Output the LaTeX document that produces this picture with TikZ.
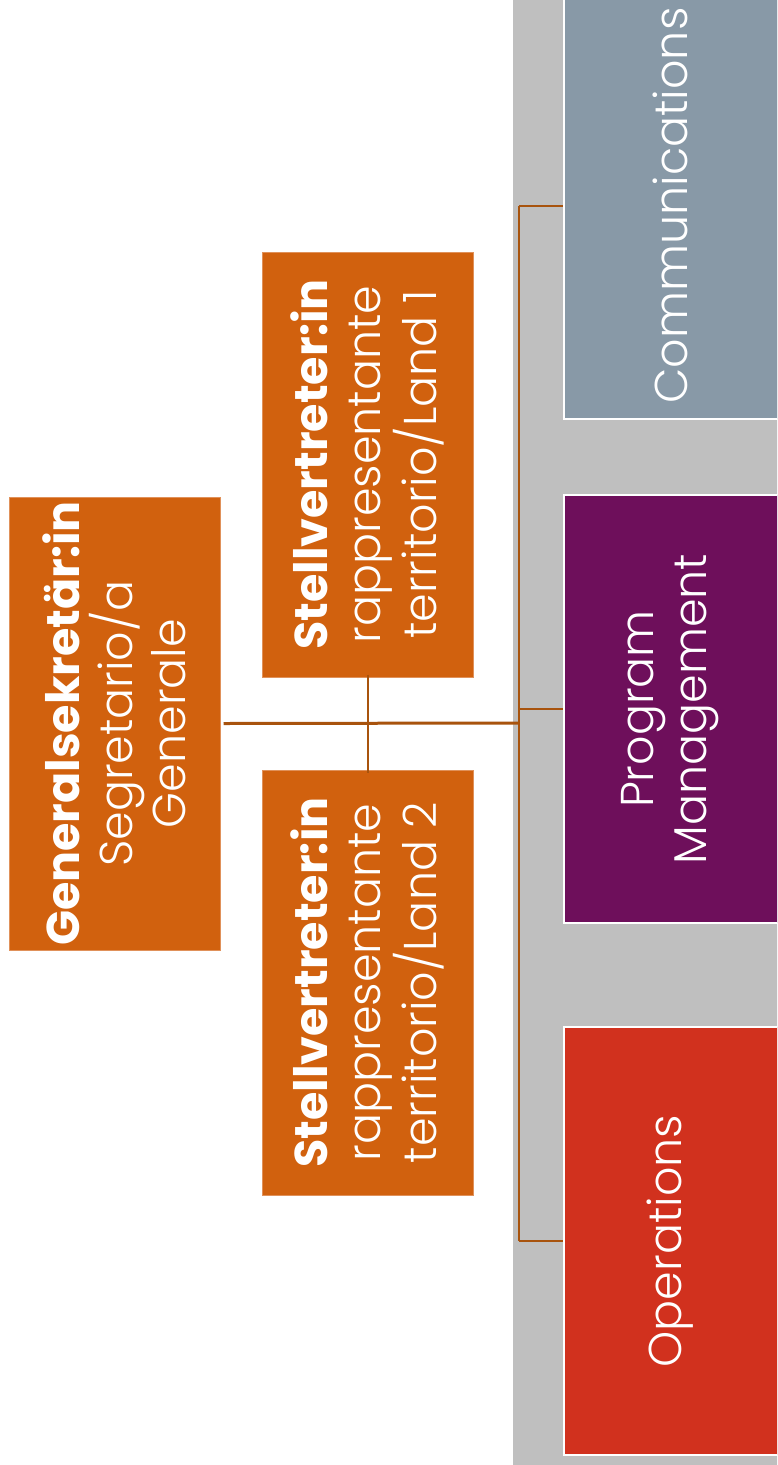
\documentclass[tikz,border=0pt]{standalone}
\usepackage{fontspec}
\setmainfont{Poppins}[UprightFont=* Light, BoldFont=* Bold]
\definecolor{boxorange}{HTML}{D1610E}
\definecolor{boxborder}{HTML}{E0915A}
\definecolor{bandgray}{HTML}{BFBFBF}
\definecolor{commblue}{HTML}{8899A7}
\definecolor{pmpurple}{HTML}{6E0F5B}
\definecolor{opsred}{HTML}{D1311E}
\definecolor{linebrown}{HTML}{A8530D}
\begin{document}
\begin{tikzpicture}[x=1pt,y=-1pt,
  obox/.style={rectangle, fill=boxorange, draw=boxborder, line width=1pt, inner sep=0pt, minimum width=211pt},
  rbox/.style={rectangle, draw=white, line width=1.5pt, inner sep=0pt, minimum width=230pt},
  vtext/.style={rotate=90, align=center, text=white, inner sep=0pt, font=\fontsize{46}{53}\selectfont},
  conn/.style={draw=linebrown, line width=2pt},
  mainconn/.style={draw=linebrown, line width=3pt}]
\useasboundingbox (0,0) rectangle (777,1465);
\clip (0,0) rectangle (777,1465);
\fill[bandgray] (513,-5) rectangle (790,1470);
% boxes
\node[obox, minimum height=453pt] (gs) at (114.5,723.5) {};
\node[obox, minimum height=425pt] (s1) at (367.5,464.5) {};
\node[obox, minimum height=425pt] (s2) at (367.5,982.5) {};
\node[rbox, fill=commblue, minimum height=427pt] (comm) at (679,205.5) {};
\node[rbox, fill=pmpurple, minimum height=428pt] (pm) at (679,709) {};
\node[rbox, fill=opsred, minimum height=428pt] (ops) at (679,1241) {};
% texts
\node[vtext] (gst) at (gs.center) {\textbf{Generalsekretär:in}\\Segretario/a\\Generale};
\node[vtext] (s1t) at (s1.center) {\textbf{Stellvertreter:in}\\rappresentante\\territorio/Land 1};
\node[vtext] (s2t) at (s2.center) {\textbf{Stellvertreter:in}\\rappresentante\\territorio/Land 2};
\node[vtext] (commt) at ([xshift=-9pt]comm.center) {Communications};
\node[vtext] (pmt) at ([xshift=-9pt]pm.center) {Program\\Management};
\node[vtext] (opst) at ([xshift=-9pt]ops.center) {Operations};
% connectors
\coordinate (bus) at (519,723);
\coordinate (bustop) at (519,206);
\coordinate (busmid) at (519,709);
\coordinate (busbot) at (519,1241);
\draw[mainconn] ([xshift=3pt]gs.east) -- (bus);
\draw[conn] ([yshift=3pt]s1.south) -- ([yshift=-3pt]s2.north);
\draw[conn] (bustop) -- (busbot);
\draw[conn] (bustop) -- (comm.west |- bustop);
\draw[conn] (busmid) -- (pm.west |- busmid);
\draw[conn] (busbot) -- (ops.west |- busbot);
\end{tikzpicture}
\end{document}
